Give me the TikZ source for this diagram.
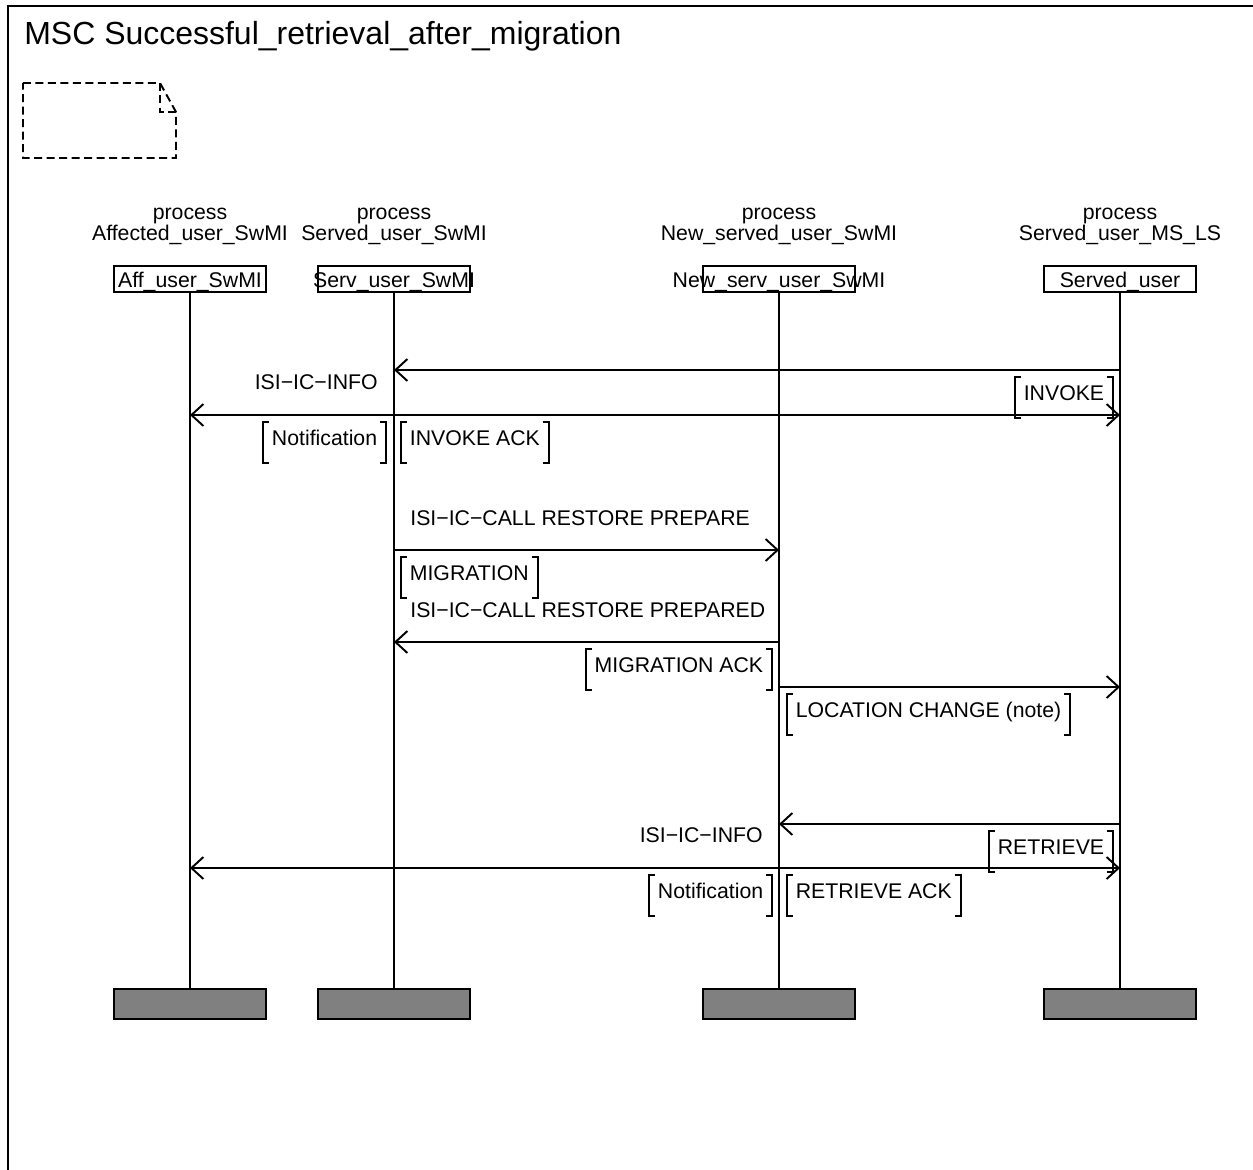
\documentclass[tikz,border=0pt]{standalone}
\usepackage{fontspec}
\setmainfont{Liberation Sans}
\usetikzlibrary{arrows.meta,positioning}

\newcommand\lblfont{\fontsize{12.1pt}{14pt}\selectfont}
\newcommand\ttlfont{\fontsize{18.2pt}{22pt}\selectfont}
% square brackets round a parameter node
\newcommand\brackets[1]{%
  \draw[brk] ([xshift=0.12cm]#1.north west) -- (#1.north west) -- (#1.south west) -- ([xshift=0.12cm]#1.south west);
  \draw[brk] ([xshift=-0.12cm]#1.north east) -- (#1.north east) -- (#1.south east) -- ([xshift=-0.12cm]#1.south east);}

\begin{document}
\begin{tikzpicture}[x=0.02cm,y=-0.02cm]
        \tikzset{
            headbox/.style={draw, line width=1.1pt, minimum width=3.04cm, minimum height=0.52cm, inner sep=0pt},
            headtext/.style={lbl, yshift=-0.06cm},
            endbox/.style={draw, line width=1.1pt, fill=gray, minimum width=3.04cm, minimum height=0.6cm, inner sep=0pt},
            lbl/.style={font=\lblfont, inner sep=0pt},
            param/.style={font=\lblfont, inner xsep=0.17cm, inner ysep=0pt, text height=0.46cm, text depth=0.34cm},
            life/.style={line width=1.1pt},
            msg/.style={line width=1.1pt, -{Straight Barb[length=0.24cm,width=0.44cm]}},
            brk/.style={line width=1.1pt},
            notebox/.style={line width=1.1pt, dash pattern=on 0.16cm off 0.09cm}
        }
        \useasboundingbox (0,0) rectangle (1253,1169);
        \clip (0,0) rectangle (1253,1169);
        \draw[line width=1.4pt] (8,6) rectangle (1300,1300);
        \node[lbl, font=\ttlfont, anchor=base west] (title) at (24,45) {MSC Successful\_retrieval\_after\_migration};
        \draw[notebox] (23,83) -- (160,83) -- (176,112) -- (176,158) -- (23,158) -- cycle;
        \draw[notebox] (160,83) -- (160,112) -- (176,112);
        % instances
        \node[lbl, anchor=base] (nA) at (190,240) {Affected\_user\_SwMI};
        \node[lbl, anchor=base] (nS) at (394,240) {Served\_user\_SwMI};
        \node[lbl, anchor=base] (nN) at (779,240) {New\_served\_user\_SwMI};
        \node[lbl, anchor=base] (nU) at (1120,240) {Served\_user\_MS\_LS};
        \node[lbl, anchor=base] (kA) at (190,219) {process};
        \node[lbl, anchor=base] (kS) at (394,219) {process};
        \node[lbl, anchor=base] (kN) at (779,219) {process};
        \node[lbl, anchor=base] (kU) at (1120,219) {process};
        \node[headbox, label={[headtext]center:Aff\_user\_SwMI}] (hA) at (190,279) {};
        \node[headbox, label={[headtext]center:Serv\_user\_SwMI}] (hS) at (394,279) {};
        \node[headbox, label={[headtext]center:New\_serv\_user\_SwMI}] (hN) at (779,279) {};
        \node[headbox, label={[headtext]center:Served\_user}] (hU) at (1120,279) {};
        \node[endbox] (eA) at (190,1004) {};
        \node[endbox] (eS) at (394,1004) {};
        \node[endbox] (eN) at (779,1004) {};
        \node[endbox] (eU) at (1120,1004) {};
        \draw[life] (hA) -- (eA);
        \draw[life] (hS) -- (eS);
        \draw[life] (hN) -- (eN);
        \draw[life] (hU) -- (eU);
        % message levels
        \coordinate (t1) at (0,370);
        \coordinate (t2) at (0,415);
        \coordinate (t3) at (0,550);
        \coordinate (t4) at (0,642);
        \coordinate (t5) at (0,687);
        \coordinate (t6) at (0,824);
        \coordinate (t7) at (0,868);
        % messages
        \draw[msg] (hU |- t1) -- (hS |- t1);
        \node[param, anchor=north east] (pInvoke) at (1113,377) {INVOKE};
        \brackets{pInvoke}
        \draw[msg] (hS |- t2) -- (hA |- t2);
        \node[lbl, anchor=base east] (mInfoA) at (378,389) {ISI−IC−INFO};
        \node[param, anchor=north east] (pNotifA) at (386,422) {Notification};
        \brackets{pNotifA}
        \draw[msg] (hS |- t2) -- (hU |- t2);
        \node[param, anchor=north west] (pInvAck) at (401,422) {INVOKE ACK};
        \brackets{pInvAck}
        \draw[msg] (hS |- t3) -- (hN |- t3);
        \node[lbl, anchor=base west] (mPrep) at (410,525) {ISI−IC−CALL RESTORE PREPARE};
        \node[param, anchor=north west] (pMig) at (401,557) {MIGRATION};
        \brackets{pMig}
        \draw[msg] (hN |- t4) -- (hS |- t4);
        \node[lbl, anchor=base west] (mPrepd) at (410,617) {ISI−IC−CALL RESTORE PREPARED};
        \node[param, anchor=north east] (pMigAck) at (772,649) {MIGRATION ACK};
        \brackets{pMigAck}
        \draw[msg] (hN |- t5) -- (hU |- t5);
        \node[param, anchor=north west] (pLoc) at (787,694) {LOCATION CHANGE (note)};
        \brackets{pLoc}
        \draw[msg] (hU |- t6) -- (hN |- t6);
        \node[param, anchor=north east] (pRetr) at (1113,831) {RETRIEVE};
        \brackets{pRetr}
        \draw[msg] (hN |- t7) -- (hA |- t7);
        \node[lbl, anchor=base east] (mInfoN) at (763,842) {ISI−IC−INFO};
        \node[param, anchor=north east] (pNotifN) at (772,875) {Notification};
        \brackets{pNotifN}
        \draw[msg] (hN |- t7) -- (hU |- t7);
        \node[param, anchor=north west] (pRetrAck) at (787,875) {RETRIEVE ACK};
        \brackets{pRetrAck}
\end{tikzpicture}
\end{document}
